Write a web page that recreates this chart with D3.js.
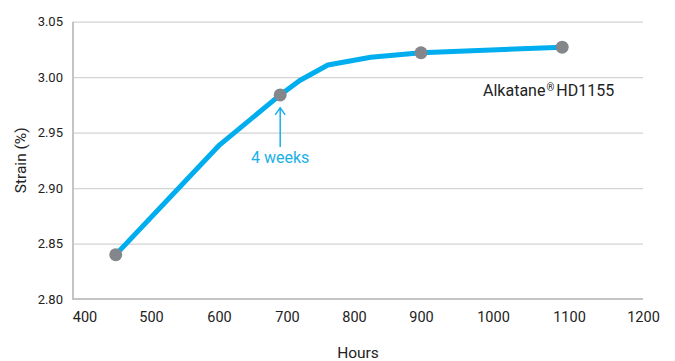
<!DOCTYPE html>
<html>
<head>
<meta charset="utf-8">
<script src="https://cdn.jsdelivr.net/npm/d3@7"></script>
<style>
  body { margin: 0; background: #fff; }
  svg { display: block; font-family: Roboto, "Liberation Sans", sans-serif; }
</style>
</head>
<body>
<svg id="chart"></svg>
<script>
// data
const hours  = [447, 601, 690, 719, 761, 825, 900, 1091];
const strain = [2.840, 2.939, 2.984, 2.997, 3.011, 3.018, 3.022, 3.027];
const markerHours  = [447, 690, 900, 1091];
const markerStrain = [2.840, 2.984, 3.022, 3.027];
const xTicks = [400, 500, 600, 700, 800, 900, 1000, 1100, 1200];
const yTicks = [2.80, 2.85, 2.90, 2.95, 3.00, 3.05];
const seriesName = "Alkatane";
const seriesCode = "HD1155";
const noteHours = 690, noteStrain = 2.984, noteText = "4 weeks";

const width = 675, height = 361;
const plot = {left: 73, right: 643, top: 21.7, bottom: 299};
// tick label positions in the source are not quite evenly spaced
const xTickPos = [84.5, 151, 219, 287, 354, 421, 493, 569, 643];

const svg = d3.select("#chart").attr("width", width).attr("height", height);

const x = d3.scaleLinear().domain(xTicks).range(xTickPos);
const y = d3.scaleLinear().domain([2.80, 3.05]).range([plot.bottom, plot.top]);

// gridlines
svg.append("g")
    .attr("transform", `translate(${plot.left},0)`)
    .call(d3.axisLeft(y).tickValues(yTicks).tickSize(-(plot.right - plot.left)).tickFormat(""))
    .call(g => g.select(".domain").remove())
    .call(g => g.selectAll("line").attr("stroke", "#d4d4d4").attr("stroke-width", 1.2));

// y tick labels
svg.append("g")
    .attr("transform", `translate(${plot.left},0)`)
    .call(d3.axisLeft(y).tickValues(yTicks).tickSize(0).tickPadding(10).tickFormat(d3.format(".2f")))
    .call(g => g.select(".domain").remove())
    .call(g => g.selectAll("text").attr("font-size", 13).attr("fill", "#222")
        .style("font-family", "Roboto, sans-serif"));

// x tick labels
svg.append("g")
    .attr("transform", `translate(0,${plot.bottom})`)
    .call(d3.axisBottom(x).tickValues(xTicks).tickSize(0).tickPadding(13).tickFormat(d3.format("d")))
    .call(g => g.select(".domain").remove())
    .call(g => g.selectAll("text").attr("font-size", 14.5).attr("fill", "#222")
        .style("font-family", "Roboto, sans-serif"));

// axis lines
svg.append("path")
    .attr("d", `M${plot.left},${plot.top}V${plot.bottom}H${plot.right}`)
    .attr("fill", "none")
    .attr("stroke", "#c2c4c6")
    .attr("stroke-width", 2);

// axis titles
svg.append("text")
    .attr("x", (plot.left + plot.right) / 2)
    .attr("y", 358)
    .attr("text-anchor", "middle")
    .attr("font-size", 15.5)
    .attr("fill", "#222")
    .text("Hours");

svg.append("text")
    .attr("transform", `translate(26,${(plot.top + plot.bottom) / 2}) rotate(-90)`)
    .attr("text-anchor", "middle")
    .attr("font-size", 15.5)
    .attr("fill", "#222")
    .text("Strain (%)");

// the line
const pts = hours.map((h, i) => [h, strain[i]]);
const line = d3.line().x(d => x(d[0])).y(d => y(d[1]));

svg.append("path")
    .datum(pts)
    .attr("d", line)
    .attr("fill", "none")
    .attr("stroke", "#00aeef")
    .attr("stroke-width", 5)
    .attr("stroke-linejoin", "round");

svg.selectAll(".marker")
    .data(markerHours.map((h, i) => [h, markerStrain[i]]))
    .join("circle")
    .attr("class", "marker")
    .attr("cx", d => x(d[0]))
    .attr("cy", d => y(d[1]))
    .attr("r", 6.5)
    .attr("fill", "#83878c");

// series label
const lab = svg.append("text")
    .attr("x", 483)
    .attr("y", 95.5)
    .attr("font-size", 16)
    .attr("fill", "#222");
lab.append("tspan").text(seriesName);
lab.append("tspan").attr("font-size", 10).attr("dy", -5).attr("dx", 1).text("®");
lab.append("tspan").attr("dy", 5).attr("dx", 2).text(seriesCode);

// "4 weeks" annotation
const ax = x(noteHours), ay = y(noteStrain);
svg.append("path")
    .attr("d", `M${ax},${ay + 13}V${ay + 52}M${ax - 5},${ay + 20}L${ax},${ay + 13}L${ax + 5},${ay + 20}`)
    .attr("fill", "none")
    .attr("stroke", "#1ab0e8")
    .attr("stroke-width", 1.5);

svg.append("text")
    .attr("x", ax)
    .attr("y", 162.5)
    .attr("text-anchor", "middle")
    .attr("font-size", 16)
    .attr("fill", "#1ab0e8")
    .text(noteText);
</script>
</body>
</html>
